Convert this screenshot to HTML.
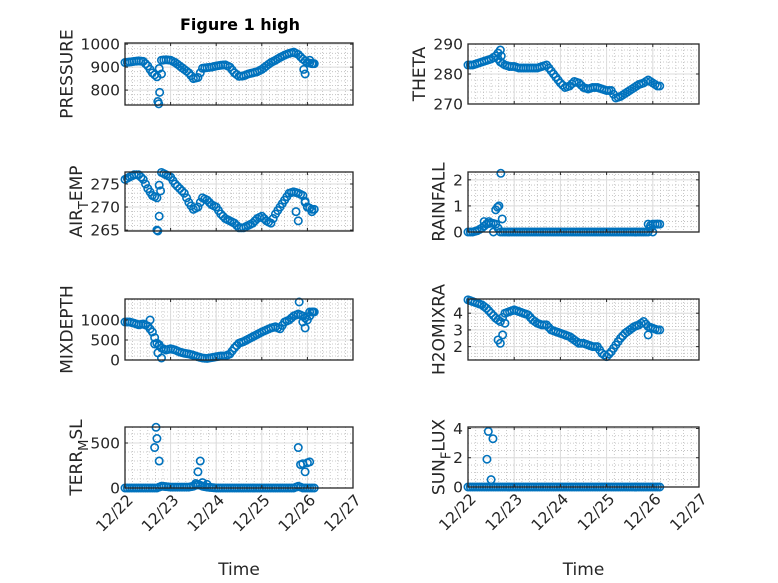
<!DOCTYPE html>
<html><head><meta charset="utf-8"><style>
body{margin:0;background:#fff}
svg{display:block;font-family:"DejaVu Sans","Liberation Sans",sans-serif}
</style></head><body>
<svg id="fig" width="778" height="583" viewBox="0 0 778 583">
<rect width="778" height="583" fill="#fff"/>
<text x="240" y="30" text-anchor="middle" font-size="16" font-weight="bold" fill="#000">Figure 1 high</text>
</svg>
<script>
const t=[0,0.1,0.2,0.3,0.4,0.5,0.6,0.7,0.8,0.9,1.0,1.1,1.2,1.3,1.4,1.5,1.6,1.7,1.8,1.9,2.0,2.1,2.2,2.3,2.4,2.5,2.6,2.7,2.8,2.9,3.0,3.1,3.2,3.3,3.4,3.5,3.6,3.7,3.8,3.9,4.0,4.1];
const xTickLabels=["12/22","12/23","12/24","12/25","12/26","12/27"];
const pressure=[920,922,925,927,925,905,875,858,930,932,930,920,905,890,875,850,855,895,898,900,905,908,910,900,875,860,862,870,875,880,890,905,920,930,942,952,960,965,955,935,920,915];
const pressureXt=[0.72,0.74,0.76,0.8,3.92,3.95,4.05,4.12];
const pressureXv=[750,740,790,870,890,870,930,915];
const theta=[283,283,283.5,284,284.5,285,286,284,283,282.5,282.5,282,282,282,282,282,282.5,283,281,279,277,275.5,276,277.5,277,275.5,275,275.5,275.5,275,274.5,274.5,272,272.5,273.5,274.5,275.5,276.5,277,278,277,276];
const thetaXt=[0.65,0.7,0.72];
const thetaXv=[287,288,286];
const airTemp=[276,276.5,277,277,276,274,272.5,272,277.5,277,276.5,275,274,273,271,269.5,270,272,271.5,270.5,270,268.5,267.5,267,266.5,265.5,265.5,266,266.5,267.5,268,267,266.5,268.5,270,271.5,273,273.3,273,272.5,270,269.5];
const airTempXt=[0.7,0.72,0.75,0.78,3.75,3.8,3.95,4.0,4.1];
const airTempXv=[265,264.8,268,273.5,269,267,271,270,269];
const rainfall=[0,0,0.05,0.15,0.3,0.35,0.3,0,0,0,0,0,0,0,0,0,0,0,0,0,0,0,0,0,0,0,0,0,0,0,0,0,0,0,0,0,0,0,0,0,0.3,0.3];
const rainfallXt=[0.35,0.45,0.6,0.64,0.67,0.71,0.74,0.55,3.9,3.95,4.0,4.1];
const rainfallXv=[0.4,0.4,0.85,0.95,1.0,2.25,0.5,0,0.3,0.25,0,0.3];
const mixDepth=[950,950,920,880,900,850,700,420,300,250,280,250,200,170,150,120,80,50,40,60,80,100,100,150,300,420,460,520,580,640,700,750,800,830,780,950,1000,1100,1150,1100,1000,1200];
const mixDepthXt=[0.55,0.65,0.72,0.75,0.8,3.82,3.9,3.95,4.05,4.12];
const mixDepthXv=[1000,400,180,380,50,1450,950,800,1200,1200];
const h2o=[4.8,4.7,4.6,4.5,4.3,4.0,3.7,3.5,4.0,4.1,4.2,4.1,4.0,3.9,3.6,3.4,3.3,3.3,3.0,2.9,2.8,2.7,2.6,2.4,2.2,2.2,2.1,2.0,2.0,1.6,1.4,1.7,2.1,2.5,2.8,3.0,3.2,3.3,3.5,3.2,3.1,3.0];
const h2oXt=[0.65,0.7,0.75,0.8,3.9];
const h2oXv=[2.4,2.2,2.7,3.4,2.7];
const terr=[0,0,0,0,0,0,0,0,20,15,10,10,10,10,10,20,40,20,10,5,0,0,0,0,0,0,0,0,0,0,0,0,0,0,0,0,0,0,20,0,0,0];
const terrXt=[0.65,0.68,0.7,0.75,0.8,1.55,1.6,1.65,1.7,1.8,3.8,3.85,3.9,3.95,4.0,4.05];
const terrXv=[450,675,550,300,20,50,180,300,60,40,450,260,270,180,280,290];
const sun=[0,0,0,0,0,0,0,0,0,0,0,0,0,0,0,0,0,0,0,0,0,0,0,0,0,0,0,0,0,0,0,0,0,0,0,0,0,0,0,0,0,0];
const sunXt=[0.41,0.44,0.5,0.54];
const sunXv=[1.9,3.8,0.5,3.3];

const NS="http://www.w3.org/2000/svg";
const svg=document.getElementById('fig');
function mk(tag,attrs,parent){const e=document.createElementNS(NS,tag);for(const k in attrs)e.setAttribute(k,attrs[k]);(parent||svg).appendChild(e);return e;}

const panels=[
 {name:'pressure',lab:'PRESSURE',x0:125,x1:353,y0:43,y1:105,ymin:735,ymax:1005,ticks:[800,900,1000],minor:20,v:pressure,xt:pressureXt,xv:pressureXv},
 {name:'theta',lab:'THETA',x0:468,x1:699,y0:44,y1:104,ymin:270,ymax:290,ticks:[270,280,290],minor:2,v:theta,xt:thetaXt,xv:thetaXv},
 {name:'air-temp',lab:'AIR<T>EMP',x0:125,x1:353,y0:172,y1:231,ymin:264.8,ymax:277.6,ticks:[265,270,275],minor:1,v:airTemp,xt:airTempXt,xv:airTempXv},
 {name:'rainfall',lab:'RAINFALL',x0:468,x1:699,y0:172,y1:232,ymin:0,ymax:2.3,ticks:[0,1,2],minor:0.2,v:rainfall,xt:rainfallXt,xv:rainfallXv},
 {name:'mixdepth',lab:'MIXDEPTH',x0:125,x1:353,y0:299,y1:360,ymin:0,ymax:1525,ticks:[0,500,1000],minor:100,v:mixDepth,xt:mixDepthXt,xv:mixDepthXv},
 {name:'h2omixra',lab:'H2OMIXRA',x0:468,x1:699,y0:299,y1:360,ymin:1.2,ymax:4.85,ticks:[2,3,4],minor:0.2,v:h2o,xt:h2oXt,xv:h2oXv},
 {name:'terr-msl',lab:'TERR<M>SL',x0:125,x1:353,y0:427,y1:488,ymin:0,ymax:678,ticks:[0,500],minor:100,v:terr,xt:terrXt,xv:terrXv,bottom:true},
 {name:'sun-flux',lab:'SUN<F>LUX',x0:468,x1:699,y0:427,y1:487,ymin:0,ymax:4.1,ticks:[0,2,4],minor:0.5,v:sun,xt:sunXt,xv:sunXv,bottom:true}
];

panels.forEach(p=>{
 const g=mk('g',{});
 
 
 const X=d=>p.x0+d/5*(p.x1-p.x0);
 const Y=v=>p.y1-(v-p.ymin)/(p.ymax-p.ymin)*(p.y1-p.y0);
 for(let d=0;d<=5.0001;d+=1/6){const x=X(d);mk('line',{x1:x,x2:x,y1:p.y0,y2:p.y1,stroke:'#bbb','stroke-width':0.8,'stroke-dasharray':'1,2'},g);}
 const start=Math.ceil(p.ymin/p.minor)*p.minor;
 for(let v=start;v<=p.ymax+1e-9;v+=p.minor){const y=Y(v);mk('line',{x1:p.x0,x2:p.x1,y1:y,y2:y,stroke:'#bbb','stroke-width':0.8,'stroke-dasharray':'1,2'},g);}
 for(let d=0;d<=5;d++){const x=X(d);mk('line',{x1:x,x2:x,y1:p.y0,y2:p.y1,stroke:'#dcdcdc','stroke-width':1},g);}
 p.ticks.forEach(v=>{const y=Y(v);mk('line',{x1:p.x0,x2:p.x1,y1:y,y2:y,stroke:'#dcdcdc','stroke-width':1},g);});
 const dg=mk('g',{fill:'none',stroke:'#0072BD','stroke-width':1.6},g);
 
 
 const pts=[];
 t.forEach((d,i)=>{const a=p.v[i],b=(i+1<t.length?p.v[i+1]:p.v[i]);
  for(let k=0;k<2;k++)pts.push([d+k*0.05,a+(b-a)*k/2]);});
 pts.forEach(q=>{if(q[0]>4.15)return;mk('circle',{cx:X(q[0]),cy:Y(q[1]),r:3.7},dg);});
 p.xt.forEach((d,i)=>{const c=mk('circle',{cx:X(d),cy:Y(p.xv[i]),r:3.7},dg);
  
  });
 mk('rect',{x:p.x0,y:p.y0,width:p.x1-p.x0,height:p.y1-p.y0,fill:'none',stroke:'#262626','stroke-width':1.3},g);
 for(let d=0;d<=5;d++){const x=X(d);mk('line',{x1:x,x2:x,y1:p.y1,y2:p.y1-3,stroke:'#262626'},g);mk('line',{x1:x,x2:x,y1:p.y0,y2:p.y0+3,stroke:'#262626'},g);}
 p.ticks.forEach(v=>{const y=Y(v);mk('line',{x1:p.x0,x2:p.x0+3,y1:y,y2:y,stroke:'#262626'},g);mk('line',{x1:p.x1,x2:p.x1-3,y1:y,y2:y,stroke:'#262626'},g);
  const tx=mk('text',{x:p.x0-5,y:y+5.5,'text-anchor':'end','font-size':15.5,fill:'#262626'},g);tx.textContent=String(v);
  
  });
 const maxw=Math.max(...p.ticks.map(v=>String(v).length))*9.6;
 const lx=p.x0-maxw-14, ly=(p.y0+p.y1)/2;
 const yl=mk('text',{x:0,y:0,'text-anchor':'middle','font-size':17,fill:'#262626',transform:`translate(${lx},${ly}) rotate(-90)`},g);
 
 
 const m=p.lab.match(/^(.*)<(.)>(.*)$/);
 if(m){const a=mk('tspan',{},yl);a.textContent=m[1];const b=mk('tspan',{'font-size':13,dy:6},yl);b.textContent=m[2];const c=mk('tspan',{dy:-6},yl);c.textContent=m[3];}
 else yl.textContent=p.lab;
 if(p.bottom){
  xTickLabels.forEach((s,i)=>{const x=X(i);const tl=mk('text',{x:0,y:0,'text-anchor':'end','font-size':15.5,fill:'#262626',transform:`translate(${x+9},${p.y1+13}) rotate(-45)`},g);tl.textContent=s;
   
   });
  const xl=mk('text',{x:(p.x0+p.x1)/2,y:575,'text-anchor':'middle','font-size':17,fill:'#262626'},g);xl.textContent='Time';
  
  
 }
});
</script>
</body></html>
